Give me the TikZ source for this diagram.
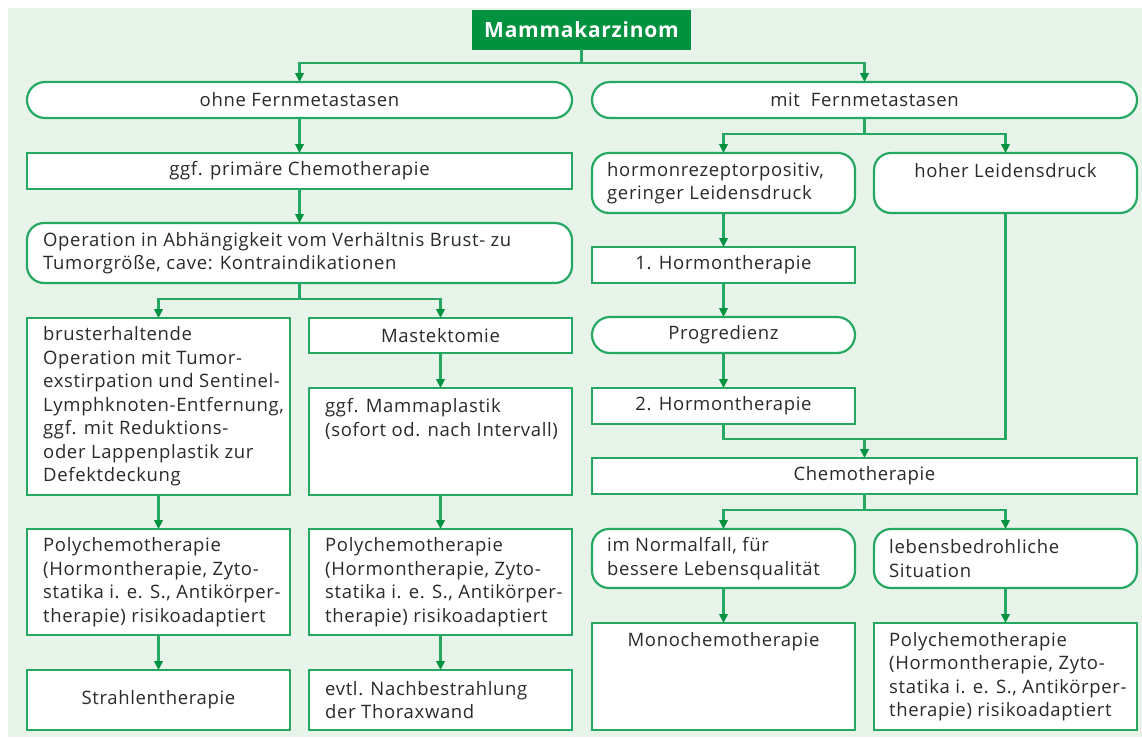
\documentclass[tikz,border=0pt]{standalone}
\usepackage{fontspec}
\setmainfont{Open Sans}[LetterSpace=3.5]
\usetikzlibrary{arrows.meta}
\definecolor{bgc}{HTML}{E8F3EA}
\definecolor{gline}{HTML}{25A862}
\definecolor{gdark}{HTML}{00923F}
\definecolor{txtc}{HTML}{2A2A2A}
\newcommand\mkbox[6]{\node[#6, minimum width={(#4)-(#2)}, minimum height={(#5)-(#3)}] (#1) at ({((#2)+(#4))/2},{((#3)+(#5))/2}) {};}
\begin{document}
\begin{tikzpicture}[x=1pt,y=-1pt,
  box/.style={rectangle, draw=gline, line width=2.2pt, fill=white, inner sep=0pt, outer sep=0pt},
  rbox/.style={box, rounded corners=17pt},
  pillbox/.style={box, rounded corners=18pt},
  tl/.style={text=txtc, font=\fontsize{18.5}{23.5}\selectfont, inner sep=0pt, align=left},
  tc/.style={tl, align=center},
  conn/.style={draw=gline, line width=2.2pt, -{Triangle[length=9pt,width=8.5pt,color=gdark]}},
  wire/.style={draw=gline, line width=2.2pt}]
\useasboundingbox (0,0) rectangle (1142,737);
\fill[bgc] (8,8) rectangle (1142,737);
% boxes
\mkbox{title}{473}{11}{690}{49}{box, fill=gdark, draw=gdark}
\mkbox{ohne}{27}{82}{572}{118}{pillbox}
\mkbox{mit}{592}{82}{1137}{118}{pillbox}
\mkbox{ggf}{27}{153}{572}{189}{box}
\mkbox{op}{27}{223}{572}{283}{rbox}
\mkbox{brust}{27}{318}{290}{495}{box}
\mkbox{mast}{309}{318}{572}{353}{box}
\mkbox{mam}{309}{388}{572}{495}{box}
\mkbox{polyL}{27}{529}{290}{635}{box}
\mkbox{polyM}{309}{529}{572}{635}{box}
\mkbox{strahl}{27}{670}{290}{730}{box}
\mkbox{evtl}{309}{670}{572}{730}{box}
\mkbox{hrp}{592}{153}{855}{213}{rbox}
\mkbox{hoher}{874}{153}{1137}{213}{rbox}
\mkbox{hA}{592}{247}{855}{283}{box}
\mkbox{prog}{592}{317}{855}{353}{pillbox}
\mkbox{hB}{592}{388}{855}{424}{box}
\mkbox{chemo}{592}{458}{1137}{494}{box}
\mkbox{norm}{592}{529}{855}{588}{rbox}
\mkbox{leb}{874}{529}{1137}{588}{rbox}
\mkbox{mono}{592}{623}{855}{730}{box}
\mkbox{polyR}{874}{623}{1137}{730}{box}
% texts
\node[tc, text=white, font=\bfseries\fontsize{21}{24}\selectfont] (t-title) at (title) {Mammakarzinom};
\node[tc] (t-ohne) at (ohne) {ohne Fernmetastasen};
\node[tc] (t-mit) at (mit) {mit\ \ Fernmetastasen};
\node[tc] (t-ggf) at (ggf) {ggf. primäre Chemotherapie};
\node[tl, anchor=west] (t-op) at ([xshift=16pt]op.west) {Operation in Abhängigkeit vom Verhältnis Brust- zu\\Tumorgröße, cave: Kontraindikationen};
\node[tl, anchor=west] (t-brust) at ([xshift=16pt]brust.west) {brusterhaltende\\Operation mit Tumor-\\exstirpation und Sentinel-\\Lymphknoten-Entfernung,\\ggf. mit Reduktions-\\oder Lappenplastik zur\\Defektdeckung};
\node[tc] (t-mast) at (mast) {Mastektomie};
\node[tl, anchor=west] (t-mam) at ([xshift=16pt,yshift=-31pt]mam.north west) {ggf. Mammaplastik\\(sofort od. nach Intervall)};
\node[tl, anchor=west] (t-polyL) at ([xshift=16pt]polyL.west) {Polychemotherapie\\(Hormontherapie, Zyto-\\statika i. e. S., Antikörper-\\therapie) risikoadaptiert};
\node[tl, anchor=west] (t-polyM) at ([xshift=16pt]polyM.west) {Polychemotherapie\\(Hormontherapie, Zyto-\\statika i. e. S., Antikörper-\\therapie) risikoadaptiert};
\node[tc] (t-strahl) at (strahl) {Strahlentherapie};
\node[tl, anchor=west] (t-evtl) at ([xshift=16pt]evtl.west) {evtl. Nachbestrahlung\\der Thoraxwand};
\node[tl, anchor=west] (t-hrp) at ([xshift=15pt]hrp.west) {hormonrezeptorpositiv,\\geringer Leidensdruck};
\node[tc] (t-hoher) at ([yshift=-18pt]hoher.north) {hoher Leidensdruck};
\node[tc] (t-hA) at (hA) {1. Hormontherapie};
\node[tc] (t-prog) at (prog) {Progredienz};
\node[tc] (t-hB) at (hB) {2. Hormontherapie};
\node[tc] (t-chemo) at (chemo) {Chemotherapie};
\node[tl, anchor=west] (t-norm) at ([xshift=15pt]norm.west) {im Normalfall, für\\bessere Lebensqualität};
\node[tl, anchor=west] (t-leb) at ([xshift=15pt]leb.west) {lebensbedrohliche\\Situation};
\node[tc] (t-mono) at ([yshift=-19pt]mono.north) {Monochemotherapie};
\node[tl, anchor=west] (t-polyR) at ([xshift=15pt]polyR.west) {Polychemotherapie\\(Hormontherapie, Zyto-\\statika i. e. S., Antikörper-\\therapie) risikoadaptiert};
% junction levels
\coordinate (yA) at (0,63);
\coordinate (yB) at (0,134);
\coordinate (yC) at (0,299);
\coordinate (yD) at (0,439);
\coordinate (yE) at (0,510);
% connectors
\draw[wire] (title.south) -- (title.south |- yA);
\draw[conn] (title.south |- yA) -| (ohne.north);
\draw[conn] (title.south |- yA) -| (mit.north);
\draw[conn] (ohne.south) -- (ggf.north);
\draw[conn] (ggf.south) -- (op.north);
\draw[wire] (op.south) -- (op.south |- yC);
\draw[conn] (op.south |- yC) -| (brust.north);
\draw[conn] (op.south |- yC) -| (mast.north);
\draw[conn] (brust.south) -- (polyL.north);
\draw[conn] (polyL.south) -- (strahl.north);
\draw[conn] (mast.south) -- (mam.north);
\draw[conn] (mam.south) -- (polyM.north);
\draw[conn] (polyM.south) -- (evtl.north);
\draw[wire] (mit.south) -- (mit.south |- yB);
\draw[conn] (mit.south |- yB) -| (hrp.north);
\draw[conn] (mit.south |- yB) -| (hoher.north);
\draw[conn] (hrp.south) -- (hA.north);
\draw[conn] (hA.south) -- (prog.north);
\draw[conn] (prog.south) -- (hB.north);
\draw[wire] (hB.south) |- (hoher.south |- yD) -- (hoher.south);
\draw[conn] (chemo.north |- yD) -- (chemo.north);
\draw[wire] (chemo.south) -- (chemo.south |- yE);
\draw[conn] (chemo.south |- yE) -| (norm.north);
\draw[conn] (chemo.south |- yE) -| (leb.north);
\draw[conn] (norm.south) -- (mono.north);
\draw[conn] (leb.south) -- (polyR.north);
\end{tikzpicture}
\end{document}
